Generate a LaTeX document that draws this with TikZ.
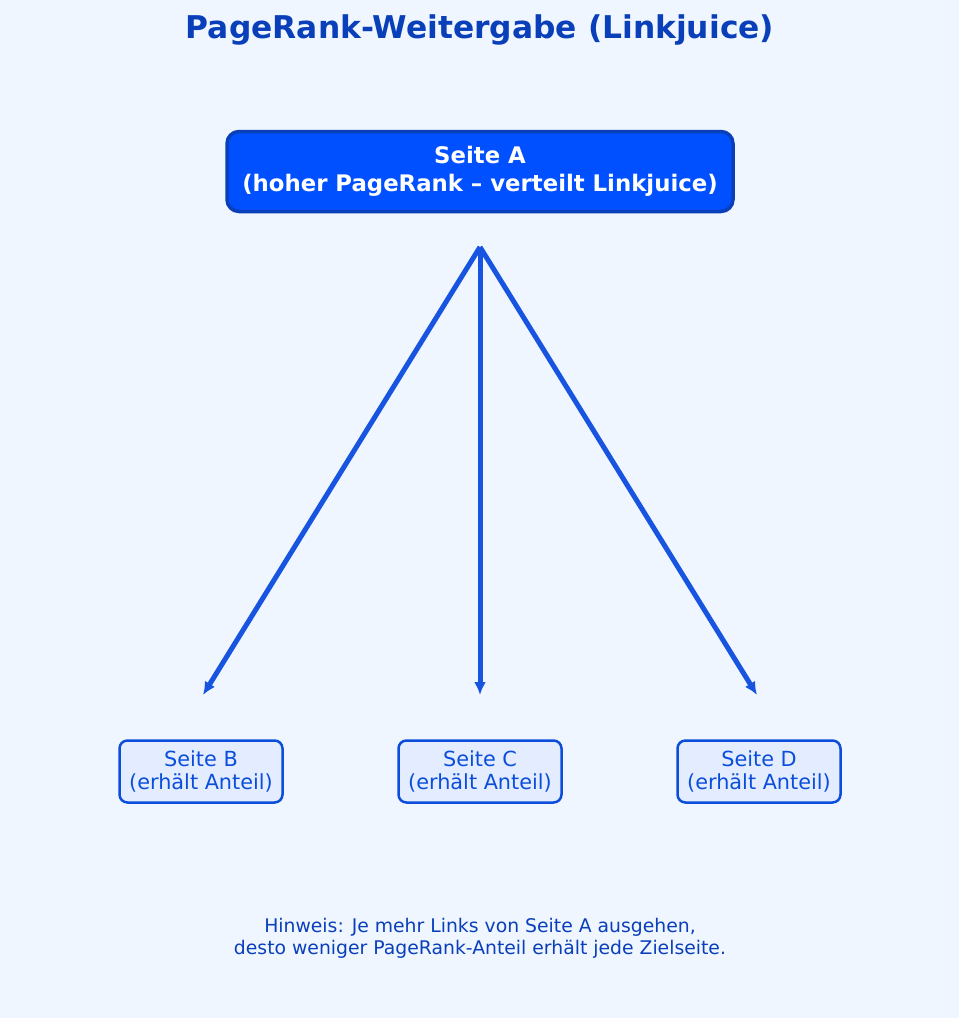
\documentclass[tikz,border=0pt]{standalone}
\usepackage{fontspec}
\setmainfont{DejaVu Sans}
\usetikzlibrary{arrows.meta}
\definecolor{bg}{HTML}{F0F6FF}
\definecolor{titleblue}{HTML}{0A3FBA}
\definecolor{afill}{HTML}{0050FF}
\definecolor{aborder}{HTML}{0A3FBA}
\definecolor{arrowblue}{HTML}{1755E0}
\definecolor{leaffill}{HTML}{E4EDFF}
\definecolor{leafblue}{HTML}{0B4EDB}
\definecolor{noteblue}{HTML}{0A3FBA}
\tikzset{
  mainbox/.style={draw=aborder, fill=afill, line width=3.5*0.75pt, rounded corners=12*0.75pt,
    minimum width={506*0.75pt}, minimum height={80*0.75pt}, inner sep=0pt,
    text=white, align=center, font=\bfseries\fontsize{17.1}{21}\selectfont},
  leafbox/.style={draw=leafblue, fill=leaffill, line width=2.5*0.75pt, rounded corners=8*0.75pt,
    minimum width={163*0.75pt}, minimum height={62*0.75pt}, inner sep=0pt,
    text=leafblue, align=center, font=\fontsize{15.6}{17.25}\selectfont},
  link/.style={draw=arrowblue, line width=5*0.75pt, -{Latex[length=13*0.75pt,width=12*0.75pt]}},
}
\begin{document}
\begin{tikzpicture}[x=0.75pt,y=-0.75pt]
\fill[bg] (0,0) rectangle (959,1018);
\useasboundingbox (0,0) rectangle (959,1018);
\node[text=titleblue, font=\bfseries\fontsize{23.5}{28}\selectfont] (title) at (480,30) {PageRank-Weitergabe (Linkjuice)};
\node[mainbox] (A) at (480,171.5) {Seite A\\(hoher PageRank – verteilt Linkjuice)};
\coordinate (src) at (480,247);
\coordinate (tB) at (203,695);
\coordinate (tC) at (480,695);
\coordinate (tD) at (757,695);
\node[leafbox] (B) at (201,771.5) {Seite B\\(erhält Anteil)};
\node[leafbox] (C) at (480,771.5) {Seite C\\(erhält Anteil)};
\node[leafbox] (D) at (759,771.5) {Seite D\\(erhält Anteil)};
\draw[link] (src) -- (tB);
\draw[link] (src) -- (tC);
\draw[link] (src) -- (tD);
\node[text=noteblue, align=center, font=\fontsize{14.1}{16.5}\selectfont] (note) at (480,938) {Hinweis: Je mehr Links von Seite A ausgehen,\\desto weniger PageRank-Anteil erhält jede Zielseite.};
\end{tikzpicture}
\end{document}
